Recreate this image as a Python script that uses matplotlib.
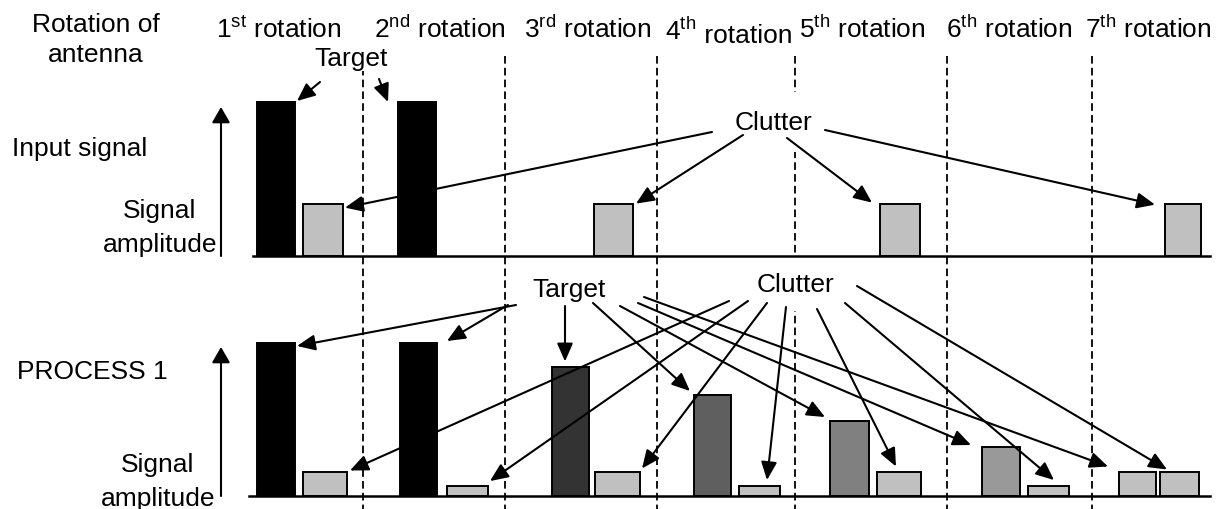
import matplotlib
matplotlib.use('Agg')
import matplotlib.pyplot as plt
from matplotlib.patches import FancyArrowPatch, ArrowStyle

plt.rcParams['font.family'] = ['Liberation Sans', 'DejaVu Sans']
plt.rcParams['mathtext.fontset'] = 'custom'
plt.rcParams['mathtext.rm'] = 'Liberation Sans'
plt.rcParams['mathtext.it'] = 'Liberation Sans:italic'
plt.rcParams['mathtext.bf'] = 'Liberation Sans:bold'
plt.rcParams['lines.scale_dashes'] = False

# ---------------- data (amplitudes, target = 100) ----------------
rotation_numbers = ['1', '2', '3', '4', '5', '6', '7']
rotation_suffix = ['st', 'nd', 'rd', 'th', 'th', 'th', 'th']

input_target_amp = [100, 100]          # 1st and 2nd rotation
input_clutter_amp = [34, 34, 34, 34]   # 1st, 3rd, 5th, 7th rotation

proc_target_amp = [100, 100, 84, 66, 49, 32, 16]
proc_clutter_amp = [16, 6.5, 16, 6.5, 16, 6.5, 16]

# ---------------- layout (pixels) ----------------
W, H = 1218, 510
FS = 19

in_target_x = [257, 398]
in_target_w = [38, 38]
in_clutter_x = [303, 594, 880, 1165]
in_clutter_w = [40, 39, 40, 36]

proc_target_x = [257, 400, 552, 694, 830, 982, 1119]
proc_target_w = [38, 37, 37, 37, 39, 38, 37]
proc_clutter_x = [303, 447, 595, 739, 877, 1028, 1160]
proc_clutter_w = [44, 41, 45, 41, 44, 41, 39]

proc_target_colors = ['#000000', '#000000', '#333333', '#5f5f5f',
                      '#808080', '#999999', '#c0c0c0']
clutter_color = '#c0c0c0'

dash_x = [363, 505, 657, 795, 947, 1092]
label_center = [279, 440, 588, 729, 862, 1009, 1148]

fig = plt.figure(figsize=(W / 100, H / 100), dpi=100)

# panel axes: y = amplitude, x = pixel column
top_base, top_full = 257, 103
bot_base, bot_full = 497, 344
ax_in = fig.add_axes([0, (H - top_base) / H, 1, (top_base - top_full) / H])
ax_p = fig.add_axes([0, (H - bot_base) / H, 1, (bot_base - bot_full) / H])
for a in (ax_in, ax_p):
    a.set_xlim(0, W)
    a.set_ylim(0, 100)
    a.axis('off')
    a.patch.set_visible(False)

ov = fig.add_axes([0, 0, 1, 1])
ov.set_xlim(0, W)
ov.set_ylim(H, 0)
ov.axis('off')
ov.patch.set_visible(False)

# bars
EDGE = 1.4
ax_in.bar(in_target_x, input_target_amp, width=in_target_w, align='edge',
          color='black', edgecolor='black', lw=EDGE, clip_on=False)
ax_in.bar(in_clutter_x, input_clutter_amp, width=in_clutter_w, align='edge',
          color=clutter_color, edgecolor='black', lw=EDGE, clip_on=False)
ax_p.bar(proc_target_x, proc_target_amp, width=proc_target_w, align='edge',
         color=proc_target_colors, edgecolor='black', lw=EDGE, clip_on=False)
ax_p.bar(proc_clutter_x, proc_clutter_amp, width=proc_clutter_w, align='edge',
         color=clutter_color, edgecolor='black', lw=EDGE, clip_on=False)


def top_px(ax, amp):
    """pixel row (from top) of amplitude amp in panel ax"""
    return H - ax.transData.transform((0, amp))[1]


# baselines (drawn on overlay, above the white text boxes)
ov.plot([253, 1210], [top_px(ax_in, 0)] * 2, color='black', lw=1.8, zorder=4)
ov.plot([249, 1210], [top_px(ax_p, 0)] * 2, color='black', lw=1.8, zorder=4)

# dashed separators
for x in dash_x:
    ov.plot([x, x], [57, H], color='black', lw=1.3, dashes=(5.5, 3), zorder=1)


def arrow(p0, p1, hl=11, hw=4.8, lw=1.5):
    ov.add_patch(FancyArrowPatch(p0, p1,
                                 arrowstyle=ArrowStyle('-|>', head_length=hl, head_width=hw),
                                 mutation_scale=1, lw=lw, color='black',
                                 shrinkA=0, shrinkB=0, zorder=6))


# axis arrows
arrow((221, top_base), (221, 108), hl=9.5, hw=5.5, lw=1.5)
arrow((221, bot_base), (221, 348), hl=9.5, hw=5.5, lw=1.5)

# ---------------- texts ----------------
white = dict(facecolor='white', edgecolor='none', pad=1)
ov.text(96, 32, 'Rotation of', fontsize=FS, ha='center', va='baseline')
ov.text(96, 62, 'antenna', fontsize=FS, ha='center', va='baseline')
ov.text(12, 156, 'Input signal', fontsize=FS, ha='left', va='baseline')
ov.text(160, 218, 'Signal', fontsize=FS, ha='center', va='baseline')
ov.text(160, 252, 'amplitude', fontsize=FS, ha='center', va='baseline')
ov.text(17, 379, 'PROCESS 1', fontsize=FS, ha='left', va='baseline')
ov.text(158, 472, 'Signal', fontsize=FS, ha='center', va='baseline')
ov.text(158, 506, 'amplitude', fontsize=FS, ha='center', va='baseline')

ov.text(351, 66, 'Target', fontsize=FS, ha='center', va='baseline', bbox=white, zorder=3)
ov.text(773, 130, 'Clutter', fontsize=FS, ha='center', va='baseline',
        bbox=dict(facecolor='white', edgecolor='none', pad=13), zorder=3)
ov.text(569, 297, 'Target', fontsize=FS, ha='center', va='baseline', zorder=3)
ov.text(796, 292, 'Clutter', fontsize=FS, ha='center', va='baseline',
        bbox=dict(facecolor='white', edgecolor='none', pad=11), zorder=3)

renderer = fig.canvas.get_renderer()
for i, (num, suf) in enumerate(zip(rotation_numbers, rotation_suffix)):
    xc = label_center[i]
    head = num + r'$^{\mathrm{' + suf + '}}$'
    if num == '4':
        t1 = ov.text(0, 40, head, fontsize=FS, ha='left', va='baseline')
        t2 = ov.text(0, 43, ' rotation', fontsize=FS, ha='left', va='baseline')
        w1 = t1.get_window_extent(renderer).width
        w2 = t2.get_window_extent(renderer).width
        x0 = xc - (w1 + w2 + 1) / 2
        t1.set_x(x0)
        t2.set_x(x0 + w1 + 1)
    else:
        ov.text(xc, 38, head + ' rotation', fontsize=FS, ha='center', va='baseline')

# ---------------- annotation arrows ----------------
# top panel
ty = top_px(ax_in, input_target_amp[0])
arrow((320, 83), (in_target_x[0] + in_target_w[0] + 2, ty - 1))
arrow((379, 80), (in_target_x[1] - 10, ty))
cy = top_px(ax_in, input_clutter_amp[0])
arrow((712, 133), (in_clutter_x[0] + in_clutter_w[0] + 2, cy + 4))
arrow((743, 136), (in_clutter_x[1] + in_clutter_w[1] + 3, cy))
arrow((787, 139), (in_clutter_x[2] - 8, cy - 1))
arrow((825, 131), (in_clutter_x[3] - 10, cy + 1))

# bottom panel - target
pt = [top_px(ax_p, a) for a in proc_target_amp]
pc = [top_px(ax_p, a) for a in proc_clutter_amp]
arrow((516, 306), (proc_target_x[0] + proc_target_w[0] + 2, pt[0] + 3))
arrow((508, 306), (proc_target_x[1] + proc_target_w[1] + 10, pt[1] - 2))
arrow((565, 307), (565, pt[2] - 6))
arrow((593, 304), (proc_target_x[3] - 4, pt[3] - 4))
arrow((620, 307), (proc_target_x[4] - 5, pt[4] - 4))
arrow((638, 304), (proc_target_x[5] - 11, pt[5] - 2))
arrow((644, 298), (proc_target_x[6] - 11, pt[6] - 5))

# bottom panel - clutter
arrow((729, 302), (proc_clutter_x[0] + proc_clutter_w[0] + 3, pc[0] - 1))
arrow((748, 302), (proc_clutter_x[1] + proc_clutter_w[1] + 2, pc[1] - 5))
arrow((767, 304), (proc_clutter_x[2] + proc_clutter_w[2] + 2, pc[2] - 3))
arrow((786, 308), (proc_clutter_x[3] + 28, pc[3] - 6))
arrow((817, 310), (proc_clutter_x[4] + 19, pc[4] - 5))
arrow((845, 304), (proc_clutter_x[5] + 26, pc[5] - 6))
arrow((857, 287), (proc_clutter_x[6] + 7, pc[6] - 2))

fig.savefig('out.png', dpi=100)
